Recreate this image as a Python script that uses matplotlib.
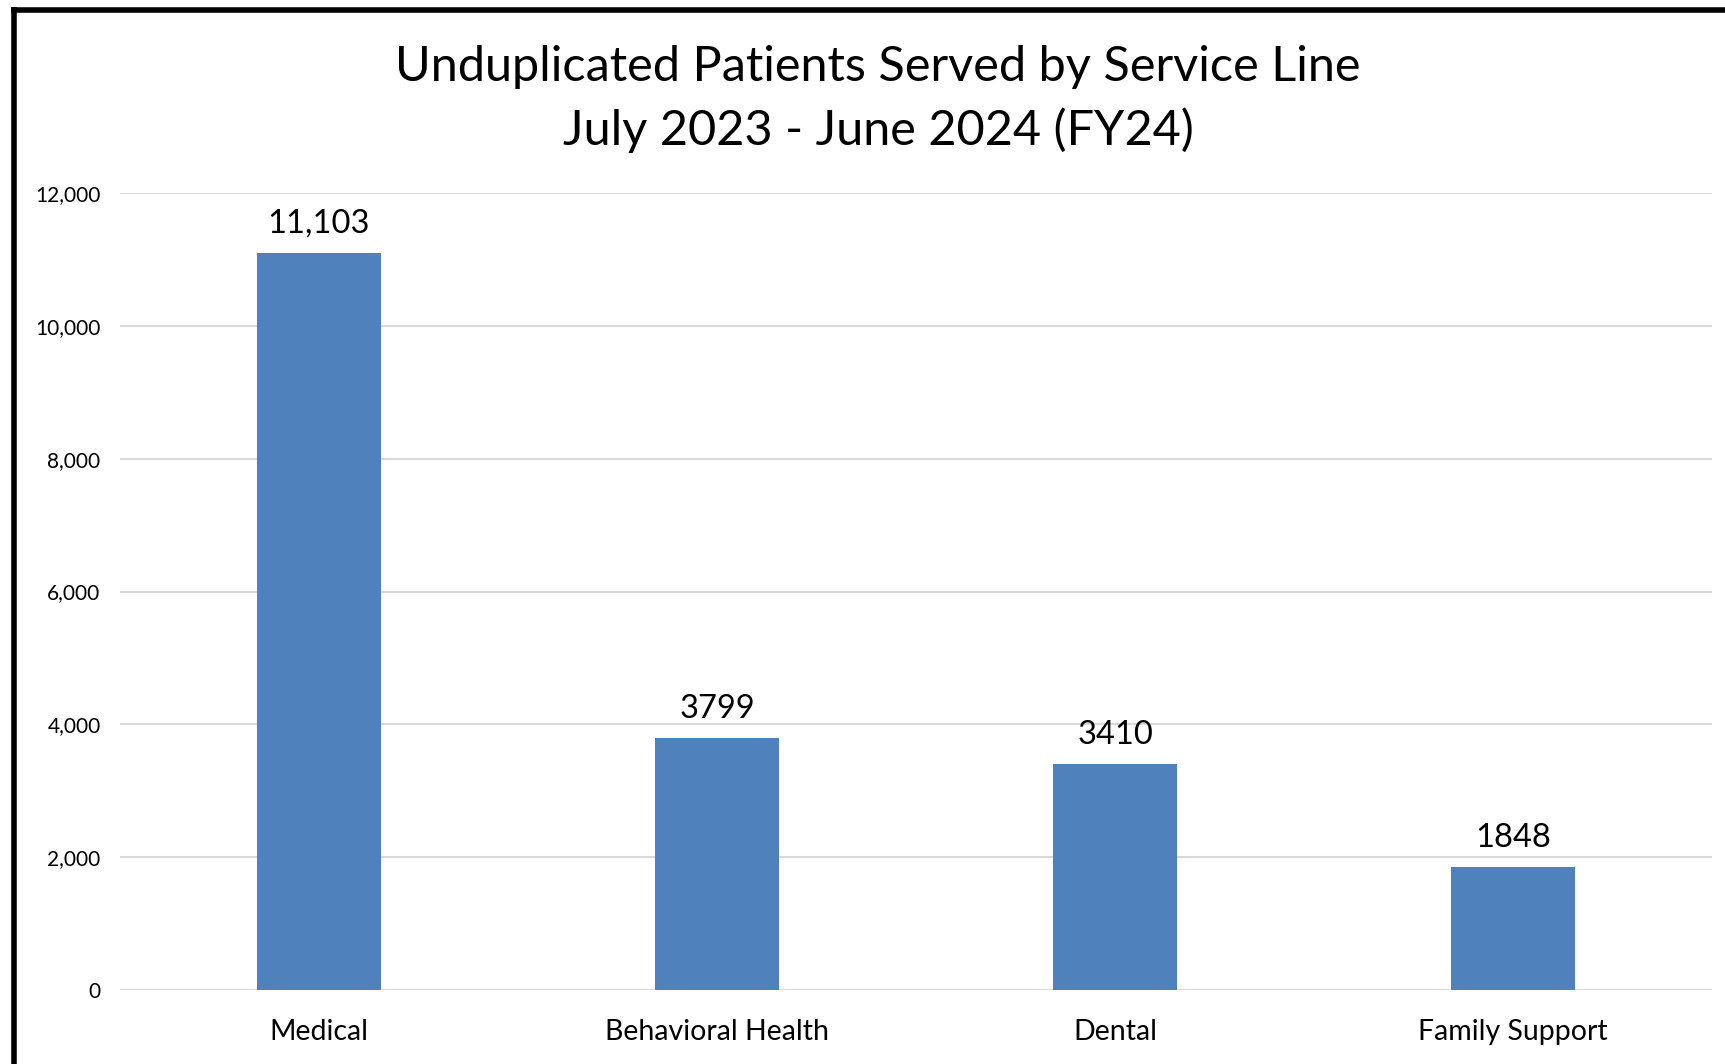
import matplotlib.pyplot as plt
from matplotlib.lines import Line2D
from matplotlib.ticker import FuncFormatter

plt.rcParams["font.family"] = ["Lato", "DejaVu Sans"]

categories = ["Medical", "Behavioral Health", "Dental", "Family Support"]
patients = [11103, 3799, 3410, 1848]
value_labels = ["11,103", "3799", "3410", "1848"]
y_ticks = [0, 2000, 4000, 6000, 8000, 10000, 12000]

W, H = 1725, 1064
fig = plt.figure(figsize=(W / 100, H / 100), dpi=100)
ax = fig.add_axes([120 / W, 1 - 990 / H, (1712 - 120) / W, (990 - 193) / H])

x = range(len(categories))
bars = ax.bar(x, patients, width=0.314, color="#4F81BD", zorder=3)

for b, lab in zip(bars, value_labels):
    ax.annotate(
        lab,
        (b.get_x() + b.get_width() / 2, b.get_height()),
        xytext=(0, 10),
        textcoords="offset points",
        ha="center",
        va="bottom",
        fontsize=23.5,
    )

ax.set_xlim(-0.5, len(categories) - 0.5)
ax.set_ylim(0, 12000)
ax.set_yticks(y_ticks)
ax.yaxis.set_major_formatter(FuncFormatter(lambda v, p: f"{int(v):,}"))
ax.set_xticks(list(x))
ax.set_xticklabels(categories, fontsize=20.5)
ax.tick_params(axis="y", length=0, pad=14, labelsize=15)
ax.tick_params(axis="x", length=0, pad=21)

ax.grid(axis="y", color="#D9D9D9", linewidth=1.5, zorder=0)
for s in ax.spines.values():
    s.set_visible(False)

fig.text(
    878 / W,
    1 - 99 / H,
    "Unduplicated Patients Served by Service Line\nJuly 2023 - June 2024 (FY24)",
    ha="center",
    va="center",
    fontsize=35,
    linespacing=1.5,
)

# black frame along top and left edge
fig.add_artist(Line2D([14 / W, 1], [1 - 9.5 / H, 1 - 9.5 / H], color="black", lw=4, transform=fig.transFigure))
fig.add_artist(Line2D([14 / W, 14 / W], [1 - 9.5 / H, 0], color="black", lw=4, transform=fig.transFigure))

fig.savefig("out.png", dpi=100)
